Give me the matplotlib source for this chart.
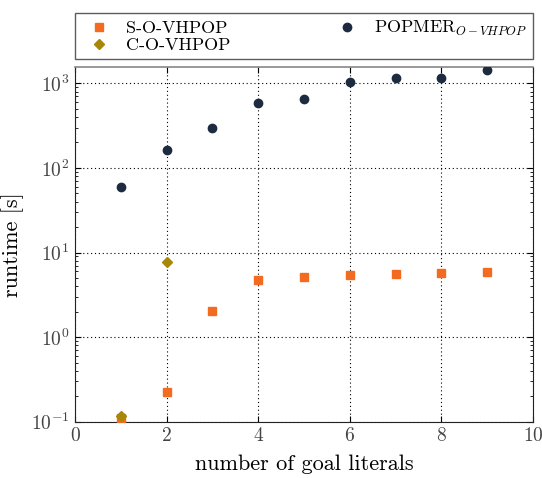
import matplotlib
matplotlib.use("Agg")
import matplotlib.pyplot as plt
from matplotlib.ticker import FixedLocator, LogLocator, NullFormatter

plt.rcParams["font.family"] = "cmr10"
plt.rcParams["mathtext.fontset"] = "cm"
plt.rcParams["axes.formatter.use_mathtext"] = True

# runtimes per number of goal literals
goals = [1, 2, 3, 4, 5, 6, 7, 8, 9]
s_runtime = [0.11, 0.225, 2.05, 4.72, 5.16, 5.41, 5.6, 5.71, 5.87]
c_goals = [1, 2]
c_runtime = [0.117, 7.76]
popmer_runtime = [60, 162, 299, 582, 659, 1040, 1168, 1160, 1430]

c_s = "#F26B21"
c_c = "#A8860A"
c_p = "#1C2B40"

fig = plt.figure(figsize=(5.42, 4.78), dpi=100)
ax = fig.add_axes([0.1384, 0.1178, 0.845, 0.7427])

ax.plot(goals, s_runtime, ls="none", marker="s", ms=5.5, color=c_s,
        mec=c_s, label="S-O-VHPOP", zorder=3)
ax.plot(c_goals, c_runtime, ls="none", marker="D", ms=5.5, color=c_c,
        mec=c_c, label="C-O-VHPOP", zorder=4)
ax.plot(goals, popmer_runtime, ls="none", marker="o", ms=6, color=c_p,
        mec=c_p, label=r"POPMER$_{O-VHPOP}$", zorder=3)

ax.set_yscale("log")
ax.set_xlim(0, 10)
ax.set_ylim(0.1, 1575)
ax.xaxis.set_major_locator(FixedLocator([0, 2, 4, 6, 8, 10]))
ax.yaxis.set_major_locator(LogLocator(base=10, numticks=10))
ax.yaxis.set_minor_locator(LogLocator(base=10, subs=range(2, 10), numticks=10))
ax.yaxis.set_minor_formatter(NullFormatter())

ax.grid(True, which="major", ls=(0, (1, 2.5)), color="black", lw=0.8)
ax.tick_params(which="both", direction="in", top=True, right=True,
               labelsize=14, labelcolor="#444444", pad=4)
ax.tick_params(which="major", length=4)
ax.tick_params(which="minor", length=2)

for side in ["left", "right", "bottom"]:
    ax.spines[side].set_color("#222222")
ax.spines["top"].set_color("#888888")
ax.spines["top"].set_linewidth(1.2)

ax.set_xlabel("number of goal literals", fontsize=16, labelpad=7)
ax.set_ylabel("runtime [s]", fontsize=16, labelpad=5)

leg = fig.legend(loc="lower left", bbox_to_anchor=(0.1384, 0.876, 0.845, 0.101),
                 mode="expand", ncol=2, borderaxespad=0, fancybox=False,
                 numpoints=1, fontsize=13, handletextpad=0.5,
                 handlelength=2.0, labelspacing=0.05, borderpad=0.35)
leg.get_frame().set_edgecolor("#333333")
leg.get_frame().set_linewidth(1.0)

fig.savefig("out.png", dpi=100)
